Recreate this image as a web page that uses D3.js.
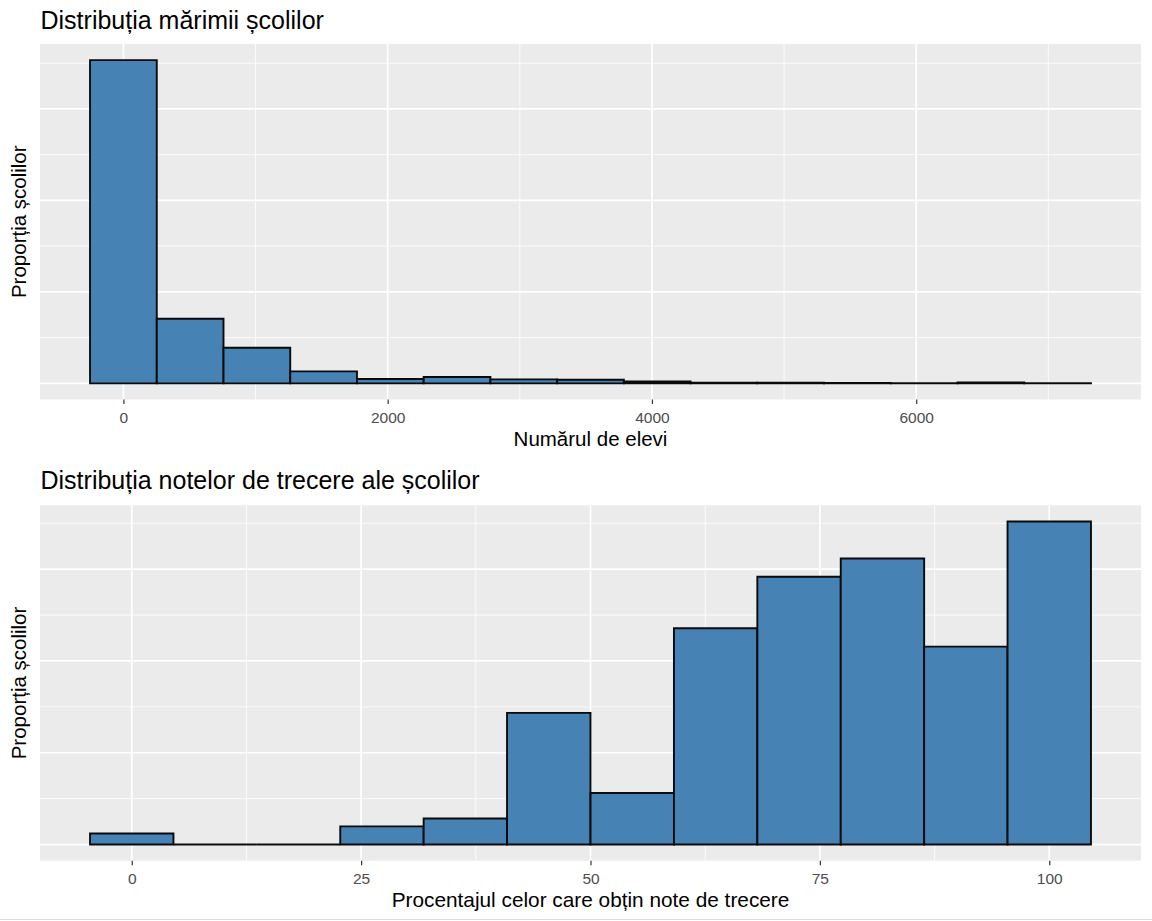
<!DOCTYPE html>
<html><head><meta charset="utf-8">
<script src="https://cdn.jsdelivr.net/npm/d3@7"></script>
<style>
body{margin:0;background:#fff;}
svg{display:block;font-family:"Liberation Sans",Arial,Helvetica,sans-serif;}
</style>
</head><body>
<svg id="chart" width="1152" height="921"></svg>
<script>
// ---- Chart 1: school size distribution ----
const sizeBinCenters = [0, 505, 1010, 1515, 2020, 2525, 3030, 3535, 4040, 4545, 5050, 5555, 6060, 6565, 7070];
const sizeProportions = [0.7066, 0.1412, 0.0779, 0.0262, 0.0094, 0.0138, 0.0087, 0.0079, 0.0040, 0.0015, 0.0015, 0.0010, 0.0005, 0.0020, 0.0005];
const sizeBinWidth = 505;
const sizeTicks = [0, 2000, 4000, 6000];
const sizeMinorTicks = [1000, 3000, 5000, 7000];
const sizeYMajor = [0, 0.2, 0.4, 0.6];
const sizeYMinor = [0.1, 0.3, 0.5, 0.7];

// ---- Chart 2: passing-grade distribution ----
const passBinCenters = [0, 9.09, 18.18, 27.27, 36.36, 45.45, 54.55, 63.64, 72.73, 81.82, 90.91, 100];
const passProportions = [0.0072, 0, 0, 0.0119, 0.0170, 0.0861, 0.0337, 0.1414, 0.1751, 0.1870, 0.1294, 0.2112];
const passBinWidth = 9.0909;
const passTicks = [0, 25, 50, 75, 100];
const passMinorTicks = [12.5, 37.5, 62.5, 87.5];
const passYMajor = [0, 0.06, 0.12, 0.18];
const passYMinor = [0.03, 0.09, 0.15, 0.21];

const svg = d3.select("#chart");

function drawHist(o) {
  const lo = o.centers[0] - o.width / 2;
  const hi = o.centers[o.centers.length - 1] + o.width / 2;
  const pad = (hi - lo) * 0.05;
  const x = d3.scaleLinear().domain([lo - pad, hi + pad]).range([o.left, o.right]);
  const ymax = d3.max(o.values);
  const y = d3.scaleLinear().domain([-ymax * 0.05, ymax * 1.05]).range([o.bottom, o.top]);

  const g = svg.append("g");
  g.append("rect").attr("x", o.left).attr("y", o.top)
    .attr("width", o.right - o.left).attr("height", o.bottom - o.top)
    .attr("fill", "#ebebeb");

  // grid
  g.selectAll(".ymin").data(o.yMinor).enter().append("line")
    .attr("x1", o.left).attr("x2", o.right)
    .attr("y1", d => y(d)).attr("y2", d => y(d))
    .attr("stroke", "#fff").attr("stroke-width", 0.8);
  g.selectAll(".xmin").data(o.xMinor).enter().append("line")
    .attr("y1", o.top).attr("y2", o.bottom)
    .attr("x1", d => x(d)).attr("x2", d => x(d))
    .attr("stroke", "#fff").attr("stroke-width", 0.8);
  g.selectAll(".ymaj").data(o.yMajor).enter().append("line")
    .attr("x1", o.left).attr("x2", o.right)
    .attr("y1", d => y(d)).attr("y2", d => y(d))
    .attr("stroke", "#fff").attr("stroke-width", 1.7);
  g.selectAll(".xmaj").data(o.ticks).enter().append("line")
    .attr("y1", o.top).attr("y2", o.bottom)
    .attr("x1", d => x(d)).attr("x2", d => x(d))
    .attr("stroke", "#fff").attr("stroke-width", 1.7);

  // bars
  const bars = o.centers.map((c, i) => ({x0: c - o.width / 2, x1: c + o.width / 2, v: o.values[i]}));
  g.selectAll(".bar").data(bars).enter().append("path")
    .attr("d", d => {
      const x0 = x(d.x0), x1 = x(d.x1), y0 = y(0), y1 = y(d.v);
      return `M${x0},${y0}V${y1}H${x1}V${y0}Z`;
    })
    .attr("fill", "#4682b4")
    .attr("stroke", "#0a0a0a")
    .attr("stroke-width", 1.9)
    .attr("stroke-linejoin", "miter");

  // x axis
  const ax = g.append("g").attr("transform", `translate(0,${o.bottom})`)
    .call(d3.axisBottom(x).tickValues(o.ticks).tickSize(4.5).tickPadding(7.5).tickFormat(d3.format("d")));
  ax.select(".domain").remove();
  ax.selectAll(".tick line").attr("stroke", "#333").attr("stroke-width", 1.2);
  ax.selectAll(".tick text").attr("fill", "#4d4d4d")
    .style("font-size", "15.5px").style("font-family", "'Liberation Sans', Arial, sans-serif");

  // titles
  g.append("text").attr("x", o.left + 0.5).attr("y", o.top - o.titleGap)
    .style("font-size", "25px").attr("fill", "#000").text(o.title);
  g.append("text").attr("x", (o.left + o.right) / 2).attr("y", o.bottom + 46)
    .attr("text-anchor", "middle").style("font-size", o.xLabelSize).attr("fill", "#000").text(o.xLabel);
  g.append("text").attr("transform", `translate(25.5,${(o.top + o.bottom) / 2}) rotate(-90)`)
    .attr("text-anchor", "middle").style("font-size", "20.5px").attr("fill", "#000").text(o.yLabel);
}

drawHist({
  left: 40, right: 1141, top: 44, bottom: 399.5, titleGap: 14.7, xLabelSize: "20.5px",
  centers: sizeBinCenters, values: sizeProportions, width: sizeBinWidth,
  ticks: sizeTicks, xMinor: sizeMinorTicks, yMajor: sizeYMajor, yMinor: sizeYMinor,
  title: "Distribuția mărimii școlilor", xLabel: "Numărul de elevi", yLabel: "Proporția școlilor"
});

drawHist({
  left: 40, right: 1141, top: 505.3, bottom: 860.7, titleGap: 16, xLabelSize: "20.8px",
  centers: passBinCenters, values: passProportions, width: passBinWidth,
  ticks: passTicks, xMinor: passMinorTicks, yMajor: passYMajor, yMinor: passYMinor,
  title: "Distribuția notelor de trecere ale școlilor", xLabel: "Procentajul celor care obțin note de trecere", yLabel: "Proporția școlilor"
});

svg.append("line").attr("x1", 0).attr("x2", 1152).attr("y1", 919.5).attr("y2", 919.5)
  .attr("stroke", "#dcdcdc").attr("stroke-width", 1);
</script>
</body></html>
